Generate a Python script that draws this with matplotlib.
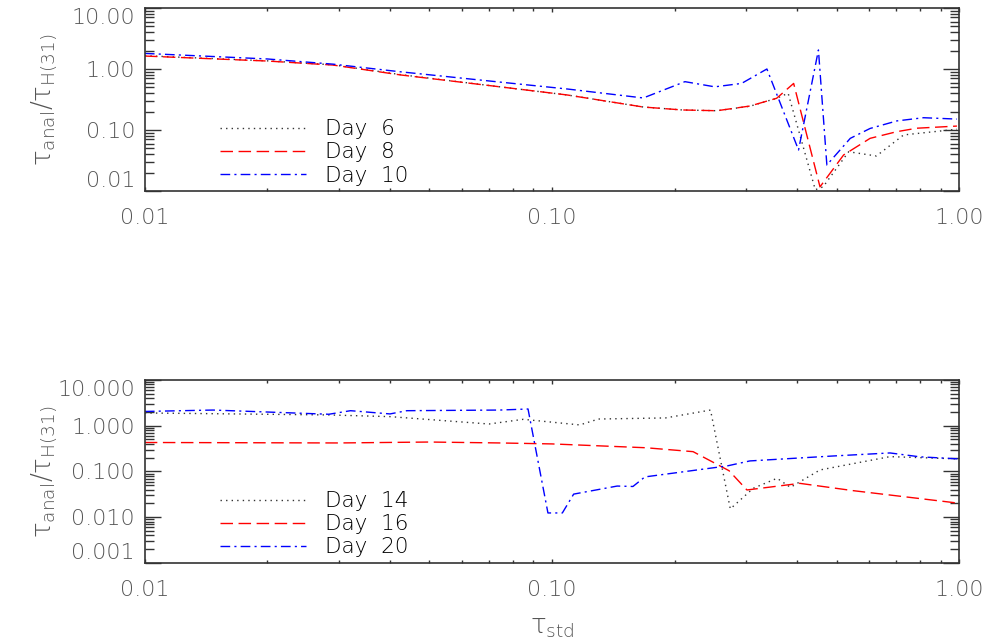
import numpy as np
import matplotlib.pyplot as plt
from matplotlib.ticker import FixedLocator, FuncFormatter, LogLocator, NullFormatter

# ---- top panel data (tau_std vs tau_anal / tau_H(31)) ----
x_day6 = [0.01, 0.02, 0.029, 0.0424, 0.0745, 0.109, 0.1675, 0.209, 0.254, 0.306,
          0.356, 0.38, 0.443, 0.463, 0.535, 0.626, 0.73, 0.987]
y_day6 = [1.65, 1.36, 1.17, 0.81, 0.51, 0.375, 0.238, 0.213, 0.207, 0.245,
          0.331, 0.40, 0.0105, 0.0117, 0.044, 0.0375, 0.083, 0.103]

x_day8 = [0.01, 0.02, 0.029, 0.0424, 0.0745, 0.109, 0.1675, 0.209, 0.254, 0.306,
          0.356, 0.392, 0.455, 0.52, 0.604, 0.703, 0.787, 0.987]
y_day8 = [1.63, 1.35, 1.16, 0.80, 0.51, 0.375, 0.238, 0.213, 0.207, 0.247,
          0.331, 0.58, 0.0117, 0.039, 0.073, 0.094, 0.107, 0.116]

x_day10 = [0.01, 0.02, 0.029, 0.0424, 0.0745, 0.109, 0.1675, 0.212, 0.251, 0.292,
           0.337, 0.403, 0.451, 0.473, 0.54, 0.604, 0.703, 0.817, 0.987]
y_day10 = [1.8, 1.46, 1.2, 0.90, 0.61, 0.47, 0.335, 0.62, 0.51, 0.58,
           1.0, 0.047, 2.05, 0.0267, 0.073, 0.106, 0.141, 0.159, 0.151]

# ---- bottom panel data ----
x_day14 = [0.01, 0.0283, 0.040, 0.07, 0.085, 0.117, 0.13, 0.19, 0.245, 0.274,
           0.312, 0.357, 0.385, 0.455, 0.676, 1.0]
y_day14 = [1.9, 1.72, 1.58, 1.09, 1.38, 1.04, 1.40, 1.48, 2.2, 0.0152,
           0.043, 0.071, 0.045, 0.108, 0.211, 0.188]

x_day16 = [0.01, 0.03, 0.05, 0.0745, 0.1, 0.17, 0.222, 0.272, 0.301, 0.406, 0.55, 1.0]
y_day16 = [0.43, 0.42, 0.44, 0.42, 0.40, 0.33, 0.271, 0.104, 0.0394, 0.055, 0.038, 0.0202]

x_day20 = [0.01, 0.0147, 0.0283, 0.032, 0.040, 0.044, 0.0745, 0.0873, 0.0977, 0.106,
           0.113, 0.1445, 0.158, 0.169, 0.269, 0.306, 0.49, 0.676, 0.80, 1.0]
y_day20 = [2.05, 2.2, 1.78, 2.13, 1.81, 2.13, 2.2, 2.32, 0.0124, 0.0124,
           0.032, 0.048, 0.047, 0.076, 0.132, 0.17, 0.218, 0.254, 0.209, 0.188]

plt.rcParams['font.weight'] = 200
plt.rcParams['mathtext.fontset'] = 'custom'
plt.rcParams['mathtext.rm'] = 'DejaVu Sans:weight=200'
plt.rcParams['mathtext.it'] = 'DejaVu Sans:weight=200'
plt.rcParams['mathtext.bf'] = 'DejaVu Sans:weight=200'

grey = '#555555'
axcol = '#333333'
styles = [('#333333', (0, (1, 3))), ('#ff0000', (0, (9, 4))), ('#0000ff', (0, (7, 3, 1.5, 3)))]

fig = plt.figure(figsize=(9.92, 6.44), dpi=100)
ax1 = fig.add_axes([0.146, 0.7034, 0.821, 0.2842])
ax2 = fig.add_axes([0.146, 0.1258, 0.821, 0.2842])


def style_axis(ax, yticks, fmt):
    ax.set_xscale('log')
    ax.set_yscale('log')
    ax.set_xlim(0.01, 1.0)
    ax.set_ylim(yticks[0], yticks[-1])
    ax.xaxis.set_major_locator(FixedLocator([0.01, 0.1, 1.0]))
    ax.xaxis.set_major_formatter(FuncFormatter(lambda v, p: '%.2f' % v))
    ax.yaxis.set_major_locator(FixedLocator(yticks))
    ax.yaxis.set_major_formatter(FuncFormatter(lambda v, p: fmt % v))
    ax.xaxis.set_minor_locator(LogLocator(base=10, subs=np.arange(2, 10)))
    ax.yaxis.set_minor_locator(LogLocator(base=10, subs=np.arange(2, 10)))
    ax.xaxis.set_minor_formatter(NullFormatter())
    ax.yaxis.set_minor_formatter(NullFormatter())
    ax.tick_params(which='both', direction='in', top=True, right=True, colors=axcol,
                   labelcolor=grey, labelsize=16, width=1)
    ax.tick_params(axis='y', which='major', length=11.5, pad=7)
    ax.tick_params(axis='y', which='minor', length=6.5)
    ax.tick_params(axis='x', which='major', length=3, pad=12)
    ax.tick_params(axis='x', which='minor', length=2)
    for s in ax.spines.values():
        s.set_color(axcol)
        s.set_linewidth(1.2)
    ax.set_ylabel(r'$\tau_{\rm anal}/\tau_{\rm H(31)}$', fontsize=19, color=grey)
    ax.yaxis.set_label_coords(-0.105, 0.5)
    # end labels kept inside the axis range, as in the original
    labs = ax.get_yticklabels()
    labs[0].set_va('bottom')
    labs[-1].set_va('top')


style_axis(ax1, [0.01, 0.1, 1.0, 10.0], '%.2f')
style_axis(ax2, [0.001, 0.01, 0.1, 1.0, 10.0], '%.3f')

top = [(x_day6, y_day6, 'Day  6'), (x_day8, y_day8, 'Day  8'), (x_day10, y_day10, 'Day  10')]
bot = [(x_day14, y_day14, 'Day  14'), (x_day16, y_day16, 'Day  16'), (x_day20, y_day20, 'Day  20')]

for (xs, ys, lab), (c, ls) in zip(top, styles):
    ax1.plot(xs, ys, color=c, linestyle=ls, linewidth=1, label=lab)
for (xs, ys, lab), (c, ls) in zip(bot, styles):
    ax2.plot(xs, ys, color=c, linestyle=ls, linewidth=1, label=lab)

for ax in (ax1, ax2):
    ax.legend(loc='lower left', bbox_to_anchor=(0.092, 0.03), frameon=False, fontsize=15.5,
              handlelength=4, handletextpad=0.9, labelspacing=0.15, borderpad=0, borderaxespad=0)

ax2.set_xlabel(r'$\tau_{\rm std}$', fontsize=19, color=grey)
ax2.xaxis.set_label_coords(0.5, -0.28)

fig.savefig('out.png', dpi=100)
